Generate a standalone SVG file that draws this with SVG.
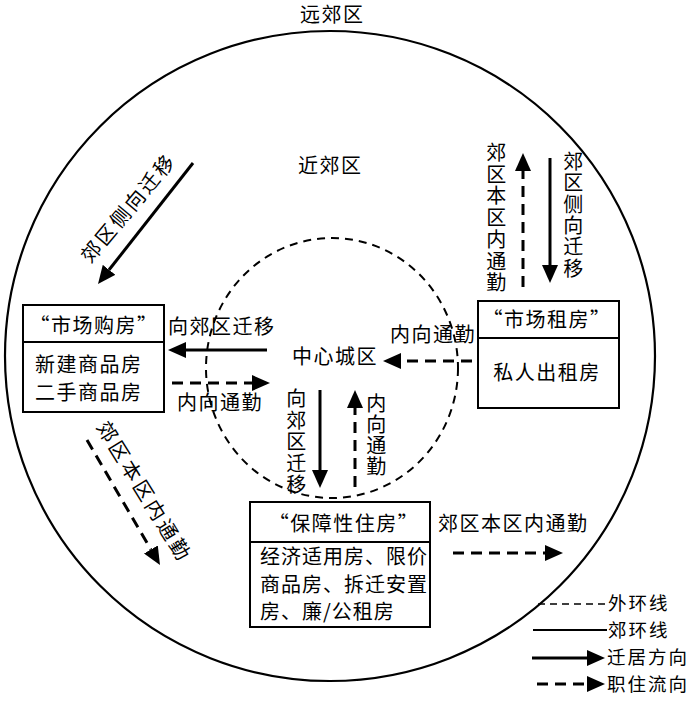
<svg xmlns="http://www.w3.org/2000/svg" width="700" height="702" viewBox="0 0 700 702">
<style>
.t{font-family:"Noto Sans CJK SC","Noto Sans CJK JP",sans-serif;font-size:20px;fill:#000;letter-spacing:1.5px}
.lg{font-size:18.5px;letter-spacing:2px}
.m{text-anchor:middle}
.box{fill:none;stroke:#000;stroke-width:2}
.sol{fill:none;stroke:#000;stroke-width:3}
.dsh{fill:none;stroke:#000;stroke-width:3;stroke-dasharray:11 7}
.arS{marker-end:url(#ah)}
</style>
<defs>
<marker id="ah" markerUnits="userSpaceOnUse" viewBox="0 0 18 16" refX="0" refY="8" markerWidth="18" markerHeight="16" orient="auto">
<path d="M0,0 L18,8 L0,16 Z" fill="#000"/>
</marker>
</defs>
<rect width="700" height="702" fill="#fff"/>
<g id="rings">
<circle cx="330" cy="356" r="325" fill="none" stroke="#000" stroke-width="2.2"/>
<ellipse cx="332" cy="368" rx="126" ry="130" fill="none" stroke="#000" stroke-width="2" stroke-dasharray="8 6"/>
</g>
<g id="zone-labels">
<text class="t" x="300" y="22">远郊区</text>
<text class="t" x="298" y="173">近郊区</text>
<text class="t" x="292" y="364">中心城区</text>
</g>
<g id="box-market-buy">
<rect class="box" x="23" y="305" width="141" height="107"/>
<line x1="23" y1="342" x2="164" y2="342" stroke="#000" stroke-width="2"/>
<text class="t m" x="94" y="333">“市场购房”</text>
<text class="t" x="35" y="372">新建商品房</text>
<text class="t" x="35" y="400">二手商品房</text>
</g>
<g id="box-market-rent">
<rect class="box" x="478" y="301" width="141" height="107"/>
<line x1="478" y1="338" x2="619" y2="338" stroke="#000" stroke-width="2"/>
<text class="t m" x="547" y="327">“市场租房”</text>
<text class="t m" x="547" y="380">私人出租房</text>
</g>
<g id="box-affordable">
<rect class="box" x="250" y="502" width="180" height="125"/>
<line x1="250" y1="542" x2="430" y2="542" stroke="#000" stroke-width="2"/>
<text class="t m" x="344" y="531">“保障性住房”</text>
<text class="t" x="260" y="564" style="letter-spacing:1px">经济适用房、限价</text>
<text class="t" x="260" y="592" style="letter-spacing:1px">商品房、拆迁安置</text>
<text class="t" x="260" y="619" style="letter-spacing:1px">房、廉/公租房</text>
</g>
<g id="connectors">
<line class="sol arS" x1="193" y1="163" x2="109.1" y2="269.8"/>
<line class="sol arS" x1="267" y1="350" x2="186" y2="350"/>
<line class="dsh arS" x1="172" y1="383" x2="252" y2="383"/>
<line class="dsh arS" x1="87" y1="440" x2="150.9" y2="549.5"/>
<line class="dsh arS" x1="472" y1="361" x2="401" y2="361"/>
<line class="sol arS" x1="320" y1="390" x2="320" y2="470"/>
<line class="dsh arS" x1="355" y1="487" x2="355" y2="408"/>
<line class="dsh arS" x1="523" y1="287" x2="523" y2="171"/>
<line class="sol arS" x1="550" y1="158" x2="550" y2="265"/>
<line class="dsh arS" x1="453" y1="553" x2="545" y2="553"/>
</g>
<g id="connector-labels">
<text class="t" transform="translate(134,212.5) rotate(-50)" text-anchor="middle" style="letter-spacing:2.5px">郊区侧向迁移</text>
<text class="t" transform="translate(138,495.5) rotate(58.4)" text-anchor="middle" style="letter-spacing:3px">郊区本区内通勤</text>
<text class="t" x="168" y="334">向郊区迁移</text>
<text class="t" x="177" y="410">内向通勤</text>
<text class="t" x="390" y="342">内向通勤</text>
<text class="t" x="438" y="531">郊区本区内通勤</text>
<text class="t m"><tspan x="297" y="406">向</tspan><tspan x="297" y="428">郊</tspan><tspan x="297" y="449">区</tspan><tspan x="297" y="471">迁</tspan><tspan x="297" y="492">移</tspan></text>
<text class="t m"><tspan x="377" y="411">内</tspan><tspan x="377" y="432">向</tspan><tspan x="377" y="453">通</tspan><tspan x="377" y="474">勤</tspan></text>
<text class="t m"><tspan x="497" y="160">郊</tspan><tspan x="497" y="182">区</tspan><tspan x="497" y="203">本</tspan><tspan x="497" y="225">区</tspan><tspan x="497" y="247">内</tspan><tspan x="497" y="269">通</tspan><tspan x="497" y="290">勤</tspan></text>
<text class="t m"><tspan x="574" y="169">郊</tspan><tspan x="574" y="190">区</tspan><tspan x="574" y="212">侧</tspan><tspan x="574" y="233">向</tspan><tspan x="574" y="254">迁</tspan><tspan x="574" y="276">移</tspan></text>
</g>
<g id="legend">
<line x1="538" y1="604" x2="607" y2="604" stroke="#000" stroke-width="1.6" stroke-dasharray="7 5"/>
<text class="t lg" x="608" y="610">外环线</text>
<line x1="533" y1="630" x2="607" y2="630" stroke="#000" stroke-width="1.8"/>
<text class="t lg" x="608" y="637">郊环线</text>
<line class="sol arS" x1="532" y1="658" x2="587" y2="658"/>
<text class="t lg" x="607" y="664">迁居方向</text>
<line class="dsh arS" x1="537" y1="684" x2="587" y2="684"/>
<text class="t lg" x="607" y="691">职住流向</text>
</g>
</svg>
